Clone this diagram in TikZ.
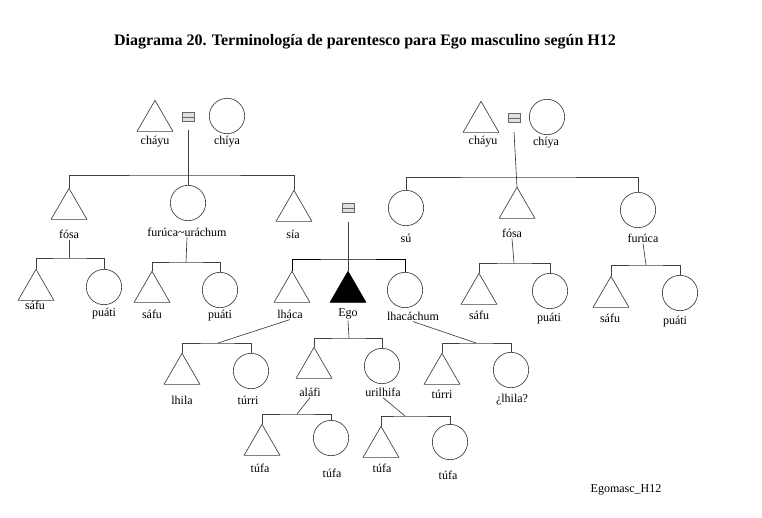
\documentclass[tikz,border=0pt]{standalone}
\usepackage{fontspec}
\setmainfont{Liberation Serif}
\usetikzlibrary{shapes.geometric, positioning, calc}

\begin{document}
\begin{tikzpicture}[x=0.75pt, y=-0.75pt,
  every node/.style={inner sep=0pt, outer sep=0pt},
  male/.style={regular polygon, regular polygon sides=3, minimum size=31pt, draw=black!75, line width=0.5pt},
  egotri/.style={male, fill=black, draw=black},
  female/.style={circle, minimum size=26.5pt, draw=black!75, line width=0.5pt},
  marr/.style={rectangle, minimum width=9pt, minimum height=7pt, draw=black!60, fill=black!12,
    path picture={\draw[black!60] (path picture bounding box.west) -- (path picture bounding box.east);}},
  term/.style={font=\fontsize{9}{10}\selectfont, inner sep=1pt},
  kin/.style={draw=black!75, line width=0.5pt},
  egoline/.style={draw=black, line width=0.7pt}]
\useasboundingbox (0,0) rectangle (762,517);
% title
\node[font=\bfseries\fontsize{12}{14}\selectfont] (title) at (365,42) {Diagrama 20. Terminología de parentesco para Ego masculino según H12};

% father's side
\node[male] (lgf) at (155,121) {};
\node[marr] (leq) at (188,117) {};
\node[female] (lgm) at (227,116) {};
\node[term] (lgflab) at (155,142) {cháyu};
\node[term] (lgmlab) at (227,142) {chíya};
\node[male] (fosaL) at (69,209) {};
\node[female] (furucaL) at (188,203) {};
\node[male] (sia) at (294,211) {};
\node[term] (fosaLlab) at (69,234) {fósa};
\node[term] (furucaLlab) at (187,232) {furúca\textasciitilde uráchum};
\node[term] (sialab) at (293,234) {sía};
\coordinate (lbar) at (188,175);
\draw[kin] ([yshift=-6pt]leq.south) -- (furucaL.north);
\draw[kin] (fosaL.corner 1) |- (lbar) -| (sia.corner 1);

\node[male] (safuA) at (36,290) {};
\node[female] (puatiA) at (104,287) {};
\node[term] (safuAlab) at (35,305) {sáfu};
\node[term] (puatiAlab) at (104,314) {puáti};
\coordinate (fosaLbar) at (69,258);
\draw[kin] (fosaLlab.south) -- (fosaLbar);
\draw[kin] (safuA.corner 1) |- (fosaLbar) -| (puatiA.north);

\node[male] (safuB) at (152,292) {};
\node[female] (puatiB) at (220,290) {};
\node[term] (safuBlab) at (152,314) {sáfu};
\node[term] (puatiBlab) at (220,316) {puáti};
\coordinate (furucaLbar) at (186,262);
\draw[kin] (furucaLlab.south) -- (furucaLbar);
\draw[kin] (safuB.corner 1) |- (furucaLbar) -| (puatiB.north);

% Ego and siblings
\node[marr] (egoeq) at (348,208) {};
\node[male] (lhaca) at (292,292) {};
\node[egotri] (ego) at (348,292) {};
\node[female] (lhacachum) at (405,290) {};
\node[term] (lhacalab) at (290,314) {lháca};
\node[term] (egolab) at (348,314) {Ego};
\node[term] (lhacachumlab) at (413,316) {lhacáchum};
\coordinate (egobar) at (348,259);
\draw[egoline] (lhaca.corner 1) |- (egobar) -| (lhacachum.north);
\draw[kin] ([yshift=-7pt]egoeq.south) -- (ego.corner 1);

% mother's side
\node[male] (rgf) at (481,122) {};
\node[marr] (req) at (514,118) {};
\node[female] (rgm) at (547,117) {};
\node[term] (rgflab) at (483,142) {cháyu};
\node[term] (rgmlab) at (546,143) {chíya};
\node[female] (su) at (406,208) {};
\node[male] (fosaR) at (517,208) {};
\node[female] (furucaR) at (638,210) {};
\node[term] (sulab) at (406,238) {sú};
\node[term] (fosaRlab) at (512,233) {fósa};
\node[term] (furucaRlab) at (643,238) {furúca};
\coordinate (rbar) at (515,177);
\draw[kin] ([yshift=-7pt]req.south) -- (fosaR.corner 1);
\draw[kin] (su.north) |- (rbar) -| (furucaR.north);

\node[male] (safuC) at (479,294) {};
\node[female] (puatiC) at (550,291) {};
\node[term] (safuClab) at (479,315) {sáfu};
\node[term] (puatiClab) at (549,319) {puáti};
\coordinate (fosaRbar) at (514,263);
\draw[kin] (fosaRlab.south) -- (fosaRbar);
\draw[kin] (safuC.corner 1) |- (fosaRbar) -| (puatiC.north);

\node[male] (safuD) at (611,297) {};
\node[female] (puatiD) at (680,293) {};
\node[term] (safuDlab) at (610,318) {sáfu};
\node[term] (puatiDlab) at (675,322) {puáti};
\coordinate (furucaRbar) at (646,265);
\draw[kin] (furucaRlab.south) -- (furucaRbar);
\draw[kin] (safuD.corner 1) |- (furucaRbar) -| (puatiD.north);

% children of lháca, Ego and lhacáchum
\node[male] (lhila) at (182,374) {};
\node[female] (turriA) at (251,371) {};
\node[term] (lhilalab) at (182,400) {lhila};
\node[term] (turriAlab) at (248,400) {túrri};
\coordinate (lhacabar) at (218,343);
\draw[kin] (lhacalab.south) -- (lhacabar);
\draw[kin] (lhila.corner 1) |- (lhacabar) -| (turriA.north);

\node[male] (alafi) at (314,368) {};
\node[female] (urilhifa) at (382,366) {};
\node[term] (alafilab) at (310,392) {aláfi};
\node[term] (urilhifalab) at (383,392) {urilhifa};
\coordinate (egosubbar) at (349,338);
\draw[kin] (egolab.south) -- (egosubbar);
\draw[kin] (alafi.corner 1) |- (egosubbar) -| (urilhifa.north);

\node[male] (turriB) at (442,374) {};
\node[female] (lhilaq) at (511,370) {};
\node[term] (turriBlab) at (442,394) {túrri};
\node[term] (lhilaqlab) at (512,400) {¿lhila?};
\coordinate (lhacachumbar) at (476,343);
\draw[kin] (lhacachumlab.south) -- (lhacachumbar);
\draw[kin] (turriB.corner 1) |- (lhacachumbar) -| (lhilaq.north);

% grandchildren
\node[male] (tufaA) at (262,445) {};
\node[female] (tufaB) at (331,438) {};
\node[term] (tufaAlab) at (260,468) {túfa};
\node[term] (tufaBlab) at (332,473) {túfa};
\coordinate (alafibar) at (297,414);
\draw[kin] (alafilab.south) -- (alafibar);
\draw[kin] (tufaA.corner 1) |- (alafibar) -| (tufaB.north);

\node[male] (tufaC) at (381,447) {};
\node[female] (tufaD) at (450,442) {};
\node[term] (tufaClab) at (382,468) {túfa};
\node[term] (tufaDlab) at (448,475) {túfa};
\coordinate (urilhifabar) at (405,416);
\draw[kin] (urilhifalab.south) -- (urilhifabar);
\draw[kin] (tufaC.corner 1) |- (urilhifabar) -| (tufaD.north);

\node[term] (tag) at (626,490) {Egomasc\_H12};
\end{tikzpicture}
\end{document}
